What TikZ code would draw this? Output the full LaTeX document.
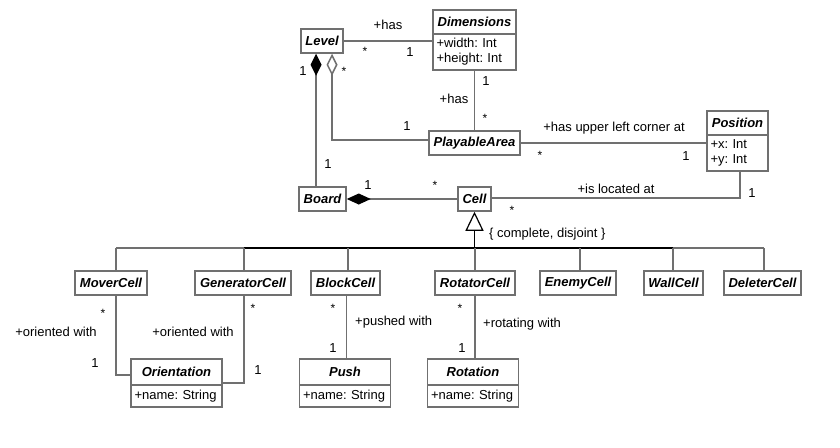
\documentclass[tikz,border=0pt]{standalone}
\usepackage{fontspec}
\setmainfont{Liberation Sans}
\usetikzlibrary{arrows.meta}
\definecolor{lineg}{RGB}{112,112,112}
\newcommand{\fsz}{\fontsize{13}{15}\selectfont\frenchspacing}
\begin{document}
\begin{tikzpicture}[x=1pt,y=-1pt,
  cls/.style={draw=lineg, line width=1.5pt, fill=white, inner sep=0pt, minimum height=24pt, font=\fsz\bfseries\itshape},
  attr/.style={draw=lineg, line width=1.5pt, fill=white, inner xsep=3.5pt, inner ysep=0pt, align=left, font=\fsz},
  conn/.style={draw=lineg, line width=1.5pt},
  lbl/.style={font=\fsz, inner sep=0pt},
  star/.style={font=\fontsize{12}{13}\selectfont, inner sep=0pt}]
\fill[white] (0,0) rectangle (840,447);
\useasboundingbox (0,0) rectangle (840,447);

\coordinate (bm) at (116,248);
\coordinate (bg) at (244,248);
\coordinate (bb) at (348,248);
\coordinate (br) at (475,248);
\coordinate (be) at (580,248);
\coordinate (bw) at (673,248);
\coordinate (bd) at (764,248);
\coordinate (gc) at (474.5,248);

% classes
\node[cls, minimum width=42pt] (level) at (322,41) {Level};
\node[cls, minimum width=83pt] (dimH) at (474.5,22) {Dimensions};
\node[attr, text width=76pt, minimum height=36pt] (dimA) at (474.5,52) {+width: Int\\+height: Int};
\node[cls, minimum width=91pt] (pa) at (474.5,143) {PlayableArea};
\node[cls, minimum width=61pt] (posH) at (737.5,123) {Position};
\node[attr, text width=54pt, minimum height=36pt] (posA) at (737.5,153) {+x: Int\\+y: Int};
\node[cls, minimum width=47pt] (board) at (322.5,199) {Board};
\node[cls, minimum width=33pt] (cell) at (474.5,199) {Cell};

\node[cls, minimum width=72pt] (mover) at (111,283) {MoverCell};
\node[cls, minimum width=96pt] (gen) at (243,283) {GeneratorCell};
\node[cls, minimum width=69pt] (block) at (345.5,283) {BlockCell};
\node[cls, minimum width=80pt] (rot) at (475,283) {RotatorCell};
\node[cls, minimum width=76pt] (enemy) at (578,283) {EnemyCell};
\node[cls, minimum width=59pt] (wall) at (673.5,283) {WallCell};
\node[cls, minimum width=77pt] (del) at (762.5,283) {DeleterCell};

\node[cls, minimum width=91pt, minimum height=26pt] (oriH) at (176.5,372) {Orientation};
\node[attr, text width=84pt, minimum height=22pt] (oriA) at (176.5,396) {+name: String};
\node[cls, minimum width=91pt, minimum height=26pt] (pushH) at (345,372) {Push};
\node[attr, text width=84pt, minimum height=22pt] (pushA) at (345,396) {+name: String};
\node[cls, minimum width=91pt, minimum height=26pt] (rotH) at (473,372) {Rotation};
\node[attr, text width=84pt, minimum height=22pt] (rotA) at (473,396) {+name: String};

% associations
\draw[conn] (level.east) -- (level.east -| dimA.west);
\draw[conn] (dimA.south) -- (pa.north);
\draw[conn, -{Diamond[open, fill=white, length=22pt, width=11pt]}] ([yshift=3pt]pa.west) -| ([xshift=10pt]level.south);
\draw[conn, -{Diamond[length=22pt, width=11pt, color=black, fill=black]}] ([xshift=-6.5pt]board.north) -- ([xshift=-6pt]level.south);
\draw[conn, -{Diamond[length=24pt, width=11pt, color=black, fill=black]}] (cell.west) -- (board.east);
\draw[conn] (pa.east) -- (pa.east -| posA.west);
\draw[conn] ([yshift=1pt]cell.east) -| ([xshift=2.5pt]posA.south);

% generalization
\draw[conn] (bm) -- (bd);
\draw[black, line width=1.5pt] (bg) -- (bw);
\draw[black, line width=1.8pt, -{Triangle[open, fill=white, length=19pt, width=18pt, line width=1.2pt]}] (gc) -- (cell.south);
\draw[conn] (bm) -- (bm |- mover.north);
\draw[conn] (bg) -- (bg |- gen.north);
\draw[conn] (bb) -- (bb |- block.north);
\draw[conn] (br) -- (br |- rot.north);
\draw[conn] (be) -- (be |- enemy.north);
\draw[conn] (bw) -- (bw |- wall.north);
\draw[conn] (bd) -- (bd |- del.north);

\draw[conn] ([xshift=5pt]mover.south) |- ([yshift=-3pt]oriH.west);
\draw[conn] ([xshift=1pt]gen.south) |- ([yshift=13pt]oriA.east);
\draw[conn] ([xshift=1pt]block.south) -- ([xshift=1.5pt]pushH.north);
\draw[conn] (rot.south) -- ([xshift=2pt]rotH.north);

% labels
\node[lbl] (t1) at (388,25) {+has};
\node[star] (t2) at (365,51) {*};
\node[lbl] (t3) at (410,52) {1};
\node[lbl] (t4) at (486,81) {1};
\node[lbl] (t5) at (454,99) {+has};
\node[star] (t6) at (485,118) {*};
\node[star] (t7) at (344,71) {*};
\node[lbl] (t8) at (407,126) {1};
\node[lbl] (t9) at (303,71) {1};
\node[lbl] (t10) at (328,164) {1};
\node[lbl] (t11) at (368,185) {1};
\node[star] (t12) at (435,185) {*};
\node[lbl] (t13) at (614,128) {+has upper left corner at};
\node[star] (t14) at (540,155) {*};
\node[lbl] (t15) at (686,156) {1};
\node[lbl] (t16) at (616,189) {+is located at};
\node[star] (t17) at (512,210) {*};
\node[lbl] (t18) at (752,193) {1};
\node[lbl, anchor=west] (t19) at (489,234) {\{ complete, disjoint \}};
\node[star] (t20) at (103,313) {*};
\node[lbl] (t21) at (56,332) {+oriented with};
\node[lbl] (t22) at (95,363) {1};
\node[star] (t23) at (253,308) {*};
\node[lbl] (t24) at (193,332) {+oriented with};
\node[lbl] (t25) at (258,370) {1};
\node[star] (t26) at (333,308) {*};
\node[lbl, anchor=west] (t27) at (355,322) {+pushed with};
\node[lbl] (t28) at (333,348) {1};
\node[star] (t29) at (460,308) {*};
\node[lbl, anchor=west] (t30) at (483,324) {+rotating with};
\node[lbl] (t31) at (462,348) {1};
\end{tikzpicture}
\end{document}
